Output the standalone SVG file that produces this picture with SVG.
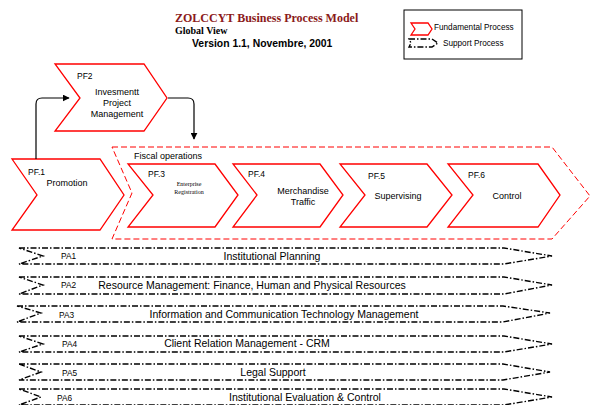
<svg xmlns="http://www.w3.org/2000/svg" width="590" height="405" viewBox="0 0 590 405">
<defs>
<marker id="ah" viewBox="0 0 10 10" refX="9" refY="5" markerWidth="7" markerHeight="7" markerUnits="userSpaceOnUse" orient="auto"><path d="M0,0 L10,5 L0,10 z" fill="#000"/></marker>
</defs>
<style>
.pf{fill:#fff;stroke:#f00;stroke-width:1.3;stroke-linejoin:miter}
.fo{fill:none;stroke:#f00;stroke-width:1;stroke-dasharray:6 3}
.pa{fill:#fff;stroke:#000;stroke-width:1.4;stroke-dasharray:6 2 1.5 2}
.s{font-family:"Liberation Sans",Arial,sans-serif;fill:#000}
.lbl{font-size:8.5px}
.t{font-size:9px}
.pat{font-size:8.3px}
.pdt{font-size:10.5px;text-anchor:middle}
.c{text-anchor:middle}
.con{fill:none;stroke:#000;stroke-width:1.2}
</style>
<rect width="590" height="405" fill="#fff"/>
<g id="title">
<text x="175" y="22" font-family="Liberation Serif,serif" font-weight="bold" font-size="12" fill="#8b1a1a">ZOLCCYT Business Process Model</text>
<text x="175" y="34" font-family="Liberation Serif,serif" font-weight="bold" font-size="10" fill="#000">Global View</text>
<text x="192" y="47" font-family="Liberation Sans,Arial,sans-serif" font-weight="bold" font-size="10.4" fill="#000">Version 1.1, Novembre, 2001</text>
</g>
<g id="legend">
<rect x="404" y="10" width="118" height="49" fill="#fff" stroke="#000" stroke-width="1"/>
<polygon class="pf" points="411,23 428,23 432,29 428,35 411,35 415,29"/>
<text class="s" x="434" y="30" font-size="8.2">Fundamental Process</text>
<polygon class="pa" stroke-width="1" points="409,39 432,39 438,43 432,47 409,47 411,43"/>
<text class="s" x="443" y="46" font-size="8.2">Support Process</text>
</g>
<g id="fiscal">
<polygon class="fo" points="112,147 552,147 590,196 552,239 112,239 132,193"/>
<text class="s t" x="134" y="159">Fiscal operations</text>
</g>
<g id="PF1">
<polygon class="pf" points="12,159 100,159 124,195 100,230 12,230 37,195"/>
<text class="s lbl" x="28" y="175">PF.1</text>
<text class="s t c" x="67" y="186">Promotion</text>
</g>
<g id="PF2">
<polygon class="pf" points="55,64 144,64 167,98 144,131 55,131 80,98"/>
<text class="s lbl" x="77" y="79">PF2</text>
<text class="s t c" x="117" y="95">Invesmentt</text>
<text class="s t c" x="117" y="106">Project</text>
<text class="s t c" x="117" y="117">Management</text>
</g>
<g id="PF3">
<polygon class="pf" points="128,164 215,164 238,195 215,227 128,227 153,195"/>
<text class="s lbl" x="148" y="177">PF.3</text>
<text x="189" y="186" font-family="Liberation Serif,serif" font-size="6" text-anchor="middle">Enterprise</text>
<text x="189" y="194" font-family="Liberation Serif,serif" font-size="6" text-anchor="middle">Registration</text>
</g>
<g id="PF4">
<polygon class="pf" points="233,164 320,164 343,195 320,227 233,227 257,195"/>
<text class="s lbl" x="248" y="177">PF.4</text>
<text class="s t c" x="303" y="194">Merchandise</text>
<text class="s t c" x="303" y="205">Traffic</text>
</g>
<g id="PF5">
<polygon class="pf" points="340,164 427,164 452,195 427,227 340,227 365,195"/>
<text class="s lbl" x="368" y="179">PF.5</text>
<text class="s t c" x="398" y="199">Supervising</text>
</g>
<g id="PF6">
<polygon class="pf" points="448,164 538,164 560,195 538,227 448,227 473,195"/>
<text class="s lbl" x="468" y="178">PF.6</text>
<text class="s t c" x="507" y="199">Control</text>
</g>
<g id="connectors">
<path class="con" d="M36,159 V104 Q36,98 42,98 H69" marker-end="url(#ah)"/>
<path class="con" d="M168,98 H188 Q194,98 194,104 V139" marker-end="url(#ah)"/>
</g>
<g id="PA1">
<polygon class="pa" points="19,248 504,248 552,256 504,264 19,264 43,256"/>
<text class="s pat" x="61" y="259">PA1</text>
<text class="s pdt" x="272" y="260">Institutional Planning</text>
</g>
<g id="PA2">
<polygon class="pa" points="19,277 504,277 552,285 504,294 19,294 43,285"/>
<text class="s pat" x="61" y="288">PA2</text>
<text class="s pdt" x="252" y="289">Resource Management: Finance, Human and Physical Resources</text>
</g>
<g id="PA3">
<polygon class="pa" points="17,306 503,306 550,313 503,322 17,322 41,313"/>
<text class="s pat" x="59" y="318">PA3</text>
<text class="s pdt" x="284" y="318">Information and Communication Technology Management</text>
</g>
<g id="PA4">
<polygon class="pa" points="19,336 504,336 552,344 504,352 19,352 43,344"/>
<text class="s pat" x="62" y="347">PA4</text>
<text class="s pdt" x="247" y="347">Client Relation Management - CRM</text>
</g>
<g id="PA5">
<polygon class="pa" points="19,364 503,364 550,372 503,380 19,380 41,372"/>
<text class="s pat" x="62" y="376">PA5</text>
<text class="s pdt" x="273" y="376">Legal Support</text>
</g>
<g id="PA6">
<polygon class="pa" points="19,389 504,389 552,397 504,405 19,405 41,397"/>
<text class="s pat" x="57" y="401">PA6</text>
<text class="s pdt" x="305" y="401">Institutional Evaluation &amp; Control</text>
</g>
</svg>
